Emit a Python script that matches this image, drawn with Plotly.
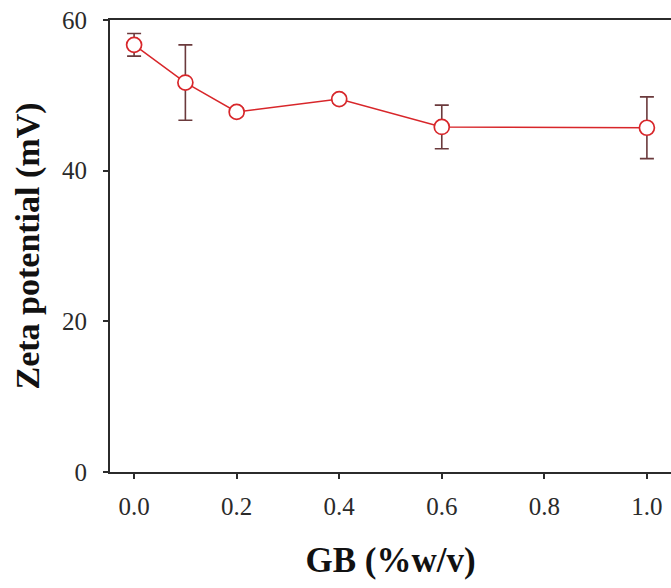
import plotly.graph_objects as go

# GB concentration (%w/v) and measured zeta potential (mV) with standard deviation
gb_conc = [0.0, 0.1, 0.2, 0.4, 0.6, 1.0]
zeta_mv = [56.7, 51.7, 47.8, 49.5, 45.8, 45.7]
zeta_sd = [1.5, 5.0, 0.5, 0.5, 2.9, 4.1]

x_ticks = [0.0, 0.2, 0.4, 0.6, 0.8, 1.0]
x_tick_text = ["0.0", "0.2", "0.4", "0.6", "0.8", "1.0"]
y_ticks = [0, 20, 40, 60]

serif = "Liberation Serif, Times New Roman, serif"
axis_col = "#2b2b2b"

fig = go.Figure()
fig.add_trace(go.Scatter(
    x=gb_conc,
    y=zeta_mv,
    mode="lines+markers",
    line=dict(color="#d8262a", width=1.5),
    marker=dict(symbol="circle", size=15, color="white",
                line=dict(color="#d8262a", width=1.7)),
    error_y=dict(type="data", array=zeta_sd, visible=True,
                 color="#6b3a3c", thickness=1.6, width=7),
    showlegend=False,
))

fig.update_layout(
    width=671,
    height=588,
    margin=dict(l=110, r=0, t=20, b=116),
    paper_bgcolor="white",
    plot_bgcolor="white",
    font=dict(family=serif, color="#222222"),
    xaxis=dict(
        range=[-0.047, 1.047],
        tickvals=x_ticks,
        ticktext=x_tick_text,
        ticks="outside",
        ticklen=5,
        tickwidth=1.5,
        tickcolor=axis_col,
        showline=True,
        linecolor=axis_col,
        linewidth=2,
        mirror=True,
        showgrid=False,
        zeroline=False,
        tickfont=dict(size=25, family=serif, color="#2a2a2a"),
        ticklabelstandoff=6,
        title=dict(text="<b>GB (%w/v)</b>",
                   font=dict(size=35, family=serif, color="#111111"),
                   standoff=28),
    ),
    yaxis=dict(
        range=[0, 60],
        tickvals=y_ticks,
        ticks="outside",
        ticklen=5,
        tickwidth=1.5,
        tickcolor=axis_col,
        showline=True,
        linecolor=axis_col,
        linewidth=2,
        showgrid=False,
        zeroline=False,
        tickfont=dict(size=25, family=serif, color="#2a2a2a"),
        ticklabelstandoff=11,
        title=dict(text="<b>Zeta potential (mV)</b>",
                   font=dict(size=34, family=serif, color="#111111"),
                   standoff=12),
    ),
)

fig.write_html("out.html")
